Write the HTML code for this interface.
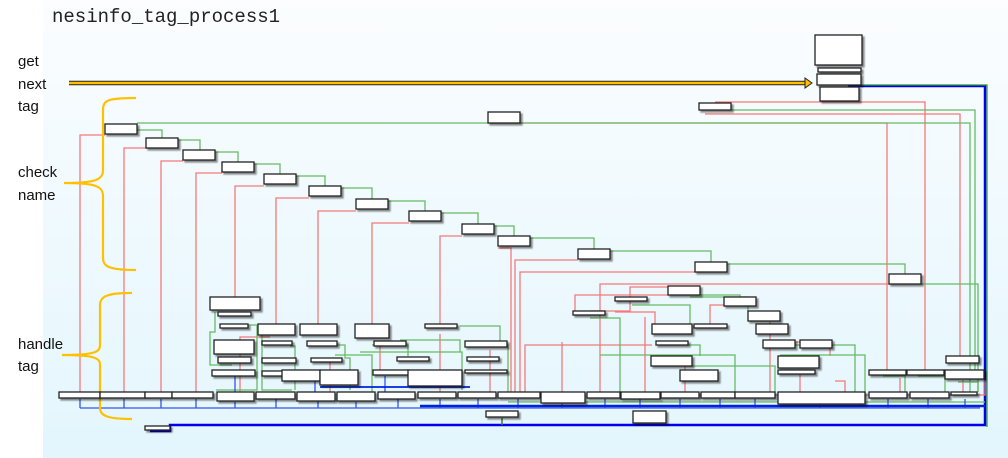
<!DOCTYPE html>
<html><head><meta charset="utf-8"><style>
html,body{margin:0;padding:0;background:#fff;}
body{width:1008px;height:458px;overflow:hidden;position:relative;font-family:"Liberation Sans",sans-serif;}
.t{position:absolute;font-size:15px;color:#111;}
</style></head><body>
<svg width="1008" height="458" style="position:absolute;left:0;top:0" xmlns="http://www.w3.org/2000/svg">
<defs>
<linearGradient id="bg" x1="0" y1="0" x2="0" y2="1">
<stop offset="0" stop-color="#fbfdfe"/><stop offset="1" stop-color="#e3f6fd"/>
</linearGradient>
<filter id="sh" x="-20%" y="-20%" width="150%" height="180%">
<feDropShadow dx="2" dy="2" stdDeviation="0.8" flood-color="#000" flood-opacity="0.45"/>
</filter>
</defs>
<rect x="43" y="0" width="965" height="458" fill="url(#bg)"/>
<text x="52" y="22" font-family="Liberation Mono, monospace" font-size="19" fill="#222">nesinfo_tag_process1</text>

<g fill="none" stroke="#0000ee" stroke-width="2.5">
<path d="M848 86 H985 V425 H170 V431 H150"/>
</g>
<path d="M862 85 H987 V427" fill="none" stroke="#2a9a2a" stroke-width="1.2"/>

<g fill="none" stroke="#f47a7a" stroke-width="1.3">
<path d="M105 135 H80 V393"/>
<path d="M146 148 H124 V393"/>
<path d="M183 161 H161 V393"/>
<path d="M222 173 H196 V393"/>
<path d="M264 186 H235 V297"/>
<path d="M309 198 H276 V324"/>
<path d="M356 211 H318 V324"/>
<path d="M409 223 H372 V324"/>
<path d="M462 236 H440 V324"/>
<path d="M498 248 H511 V393"/>
<path d="M578 260 H515 V393"/>
<path d="M695 272 H520 V393"/>
<path d="M520 123 H887 V370"/>
<path d="M715 102 H925 V370"/>
<path d="M705 114 H960 V356"/>
<path d="M889 284 H600 V395"/>
<path d="M685 287 H630 V297"/>
<path d="M630 300 H630 V311 H590 V311"/>
<path d="M668 295 H575 V311"/>
<path d="M740 305 H710 V324"/>
<path d="M562 342 H562 V392"/>
<path d="M615 312 H655 V324"/>
<path d="M652 345 H525 V392"/>
<path d="M645 317 H645 V392"/>
<path d="M770 322 H770 V392"/>
<path d="M790 342 H830 V356"/>
<path d="M680 364 H685 V392"/>
<path d="M270 337 H240 V392"/>
<path d="M320 362 H330 V392"/>
<path d="M380 346 H380 V370"/>
<path d="M440 334 H440 V392"/>
<path d="M490 350 H490 V392"/>
<path d="M860 395 H860 V405"/>
<path d="M780 372 H800 V392"/>
<path d="M835 381 H845 V392"/>
<path d="M900 378 H900 V392"/>
<path d="M963 380 H963 V392"/>
<path d="M600 395 H985 V380"/>
</g>

<g fill="none" stroke="#66bb66" stroke-width="1.3">
<path d="M137 123 H970 V393"/>
<path d="M731 110 H975 V370"/>
<path d="M137 130 H162 V138"/>
<path d="M178 140 H200 V150"/>
<path d="M215 152 H238 V162"/>
<path d="M254 164 H280 V174"/>
<path d="M296 176 H325 V186"/>
<path d="M341 188 H372 V199"/>
<path d="M388 201 H425 V211"/>
<path d="M441 213 H478 V224"/>
<path d="M494 226 H514 V236"/>
<path d="M530 238 H594 V249"/>
<path d="M610 251 H711 V262"/>
<path d="M727 264 H905 V274"/>
<path d="M921 284 H978 V392"/>
<path d="M700 295 H740 V297"/>
<path d="M690 297 H748 V312"/>
<path d="M632 305 H690 V324"/>
<path d="M590 318 H620 V392"/>
<path d="M600 355 H735 V392"/>
<path d="M660 345 H700 V356"/>
<path d="M690 366 H775 V392"/>
<path d="M780 355 H865 V398"/>
<path d="M795 345 H855 V392"/>
<path d="M215 312 V332 H210 V365 H232"/>
<path d="M246 325 H257 V390 H216"/>
<path d="M262 328 V390 H292"/>
<path d="M290 346 H295 V390"/>
<path d="M310 345 H345 V358 H350 V390"/>
<path d="M335 355 H372 V392"/>
<path d="M372 345 H408 V356"/>
<path d="M460 326 H500 V341"/>
<path d="M470 345 H508 V392"/>
<path d="M360 352 H462 V390"/>
<path d="M400 340 H460 V352"/>
<path d="M883 376 H905 V392"/>
<path d="M918 376 H945 V392"/>
<path d="M958 382 H978 V392"/>
<path d="M508 402 H985"/>
</g>

<g fill="none" stroke="#3355ee" stroke-width="1.3">
<path d="M80 399 V408 M124 399 V408 M161 399 V408 M196 399 V408 M235 402 V408 M276 399 V408 M318 399 V408 M356 402 V408 M398 399 V408 M440 399 V408 M478 399 V408 M518 399 V408 M562 404 V408 M605 399 V408 M640 399 V408 M680 399 V408 M720 399 V408 M755 399 V408 M820 405 V408 M888 399 V408 M928 399 V408 M965 399 V408 M235 376 V392 M315 376 V392 M385 376 V392"/>
<path d="M80 408 H980" stroke-width="1.2"/>
</g>
<path d="M420 406 H985" stroke="#0022dd" stroke-width="2.5"/>
<path d="M320 387 H470" stroke="#0022dd" stroke-width="1.8"/>
<path d="M502 418 V425" stroke="#3a7a3a" stroke-width="1.5"/>

<path d="M69 83 H806" stroke="#222" stroke-width="4.5"/>
<path d="M69 83 H806" stroke="#ffc000" stroke-width="2.5"/>
<path d="M805 78 L812 83 L805 88 Z" fill="#ffc000" stroke="#222" stroke-width="1"/>
<g fill="none" stroke="#ffc000" stroke-width="2.2">
<path d="M136 98 C108 98 103 100 103 110 V170 C103 180 95 183 64 183 C95 183 103 186 103 196 V258 C103 266 108 270 136 270"/>
<path d="M132 293 C108 293 100 296 100 305 V345 C100 352 95 355 62 355 C95 355 100 358 100 365 V408 C100 416 108 419 132 419"/>
</g>

<g fill="#fff" stroke="#222" stroke-width="1.3" filter="url(#sh)">
<rect x="815" y="35" width="47" height="30"/>
<rect x="818" y="68" width="43" height="4"/>
<rect x="817" y="74" width="44" height="11"/>
<rect x="820" y="87" width="39" height="14"/>
<rect x="699" y="103" width="32" height="7"/>
<rect x="488" y="112" width="32" height="11"/>
<rect x="105" y="124" width="32" height="10"/>
<rect x="146" y="138" width="32" height="10"/>
<rect x="183" y="150" width="32" height="10"/>
<rect x="222" y="162" width="32" height="10"/>
<rect x="264" y="174" width="32" height="10"/>
<rect x="309" y="186" width="32" height="10"/>
<rect x="356" y="199" width="32" height="10"/>
<rect x="409" y="211" width="32" height="10"/>
<rect x="462" y="224" width="32" height="10"/>
<rect x="498" y="236" width="32" height="10"/>
<rect x="578" y="249" width="32" height="10"/>
<rect x="695" y="262" width="32" height="10"/>
<rect x="889" y="274" width="32" height="10"/>
<rect x="668" y="286" width="32" height="9"/>
<rect x="615" y="297" width="32" height="4"/>
<rect x="573" y="311" width="32" height="4"/>
<rect x="724" y="297" width="32" height="9"/>
<rect x="748" y="311" width="32" height="10"/>
<rect x="652" y="324" width="40" height="10"/>
<rect x="694" y="324" width="33" height="4"/>
<rect x="756" y="324" width="32" height="10"/>
<rect x="656" y="341" width="32" height="4"/>
<rect x="763" y="340" width="32" height="8"/>
<rect x="800" y="340" width="32" height="8"/>
<rect x="651" y="356" width="41" height="10"/>
<rect x="778" y="356" width="41" height="12"/>
<rect x="778" y="370" width="37" height="4"/>
<rect x="680" y="370" width="38" height="11"/>
<rect x="946" y="356" width="33" height="7"/>
<rect x="869" y="370" width="37" height="5"/>
<rect x="907" y="370" width="37" height="5"/>
<rect x="945" y="370" width="39" height="9"/>
<rect x="210" y="297" width="50" height="13"/>
<rect x="218" y="312" width="33" height="4"/>
<rect x="220" y="324" width="28" height="4"/>
<rect x="214" y="340" width="40" height="14"/>
<rect x="218" y="357" width="33" height="6"/>
<rect x="212" y="370" width="43" height="6"/>
<rect x="258" y="324" width="37" height="11"/>
<rect x="262" y="341" width="30" height="4"/>
<rect x="262" y="358" width="34" height="5"/>
<rect x="262" y="371" width="26" height="5"/>
<rect x="300" y="324" width="37" height="11"/>
<rect x="307" y="341" width="30" height="5"/>
<rect x="311" y="358" width="31" height="4"/>
<rect x="282" y="370" width="38" height="11"/>
<rect x="320" y="370" width="38" height="15"/>
<rect x="355" y="324" width="34" height="14"/>
<rect x="425" y="324" width="32" height="4"/>
<rect x="374" y="341" width="32" height="5"/>
<rect x="397" y="357" width="32" height="4"/>
<rect x="373" y="370" width="36" height="5"/>
<rect x="408" y="370" width="54" height="16"/>
<rect x="465" y="341" width="42" height="6"/>
<rect x="467" y="357" width="32" height="4"/>
<rect x="465" y="370" width="42" height="3"/>
<rect x="59" y="392" width="41" height="6"/>
<rect x="100" y="392" width="45" height="6"/>
<rect x="145" y="392" width="27" height="6"/>
<rect x="172" y="392" width="41" height="6"/>
<rect x="217" y="392" width="37" height="9"/>
<rect x="256" y="392" width="39" height="7"/>
<rect x="297" y="392" width="38" height="9"/>
<rect x="337" y="392" width="38" height="9"/>
<rect x="378" y="392" width="37" height="7"/>
<rect x="418" y="392" width="38" height="6"/>
<rect x="458" y="392" width="38" height="6"/>
<rect x="498" y="392" width="42" height="6"/>
<rect x="541" y="392" width="44" height="11"/>
<rect x="587" y="392" width="33" height="6"/>
<rect x="621" y="392" width="39" height="7"/>
<rect x="661" y="392" width="38" height="6"/>
<rect x="701" y="392" width="34" height="6"/>
<rect x="735" y="392" width="40" height="6"/>
<rect x="778" y="392" width="87" height="12"/>
<rect x="869" y="392" width="38" height="6"/>
<rect x="910" y="392" width="39" height="6"/>
<rect x="951" y="392" width="26" height="3"/>
<rect x="486" y="411" width="32" height="6"/>
<rect x="633" y="411" width="33" height="12"/>
<rect x="145" y="426" width="25" height="4"/>
</g>
</svg>
<div class="t" style="left:18px;top:53px">get</div>
<div class="t" style="left:18px;top:76px">next</div>
<div class="t" style="left:18px;top:98px">tag</div>
<div class="t" style="left:18px;top:164px">check</div>
<div class="t" style="left:18px;top:187px">name</div>
<div class="t" style="left:18px;top:336px">handle</div>
<div class="t" style="left:18px;top:358px">tag</div>
</body></html>
